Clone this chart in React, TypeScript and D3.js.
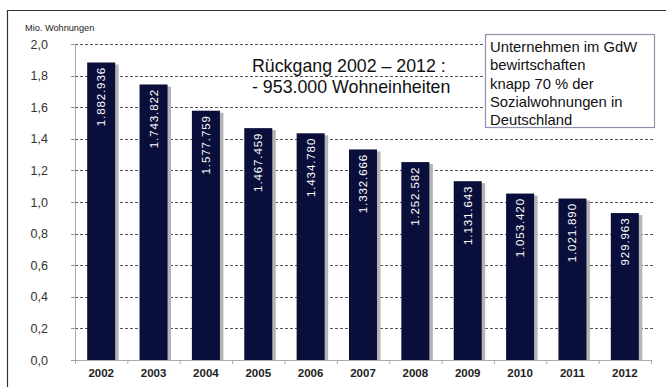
import React from "react";
import * as d3 from "d3";

const years = ["2002","2003","2004","2005","2006","2007","2008","2009","2010","2011","2012"];
const values = [1.882936,1.743822,1.577759,1.467459,1.434780,1.332666,1.252582,1.131643,1.053420,1.021890,0.929963];
const valueLabels = ["1.882.936","1.743.822","1.577.759","1.467.459","1.434.780","1.332.666","1.252.582","1.131.643","1.053.420","1.021.890","929.963"];
const yTicks = [0,0.2,0.4,0.6,0.8,1.0,1.2,1.4,1.6,1.8,2.0];
const noteLines = ["Unternehmen im GdW","bewirtschaften","knapp 70 % der","Sozialwohnungen in","Deutschland"];
const headline = ["Rückgang 2002 – 2012 :","- 953.000 Wohneinheiten"];

export default function App() {
  const W = 666, H = 387;
  const x0 = 75, x1 = 651, yTop = 44, yBot = 360;
  const x = d3.scaleBand<string>().domain(years).range([x0, x1]).paddingInner(0.465).paddingOuter(0.2325);
  const y = d3.scaleLinear().domain([0, 2]).range([yBot, yTop]);
  const step = x.step();
  const font = "Arial, 'Liberation Sans', sans-serif";
  return (
    <svg width={W} height={H} style={{ position: "absolute", left: 0, top: 0 }} fontFamily={font}>
      <rect x={0} y={0} width={W} height={H} fill="#fff" />
      <line x1={7.5} y1={10} x2={7.5} y2={H} stroke="#333" strokeWidth={1.2} />
      <line x1={7} y1={10.5} x2={W} y2={10.5} stroke="#333" strokeWidth={1.2} />
      <text x={25} y={31} fontSize={9.2} fill="#222">Mio. Wohnungen</text>
      {yTicks.map((t) => (
        <g key={t}>
          {t > 0 && (
            <line x1={x0} x2={655} y1={Math.round(y(t)) + 0.5} y2={Math.round(y(t)) + 0.5} stroke="#555" strokeDasharray="3,2" strokeWidth={1} />
          )}
          <line x1={x0 - 4} x2={x0} y1={Math.round(y(t)) + 0.5} y2={Math.round(y(t)) + 0.5} stroke="#999" />
          <text x={48} y={y(t) + 4.5} fontSize={12.5} textAnchor="end" fill="#333">{d3.format(".1f")(t).replace(".", ",")}</text>
        </g>
      ))}
      <line x1={x0 + 0.5} x2={x0 + 0.5} y1={yTop} y2={yBot} stroke="#aaa" />
      {years.map((yr, i) => {
        const bx = x(yr)!;
        const bw = x.bandwidth();
        const by = y(values[i]);
        return (
          <g key={yr}>
            <rect x={bx + 2} y={by + 2} width={bw + 1.5} height={yBot - by - 2} fill="#b5b5b5" />
            <rect x={bx} y={by} width={bw} height={yBot - by} fill="#0a0e3a" />
            <text transform={`translate(${bx + bw / 2 + 4},${by + 4.5}) rotate(-90)`} textAnchor="end" fontSize={11.5} letterSpacing={0.9} fill="#fff">{valueLabels[i]}</text>
            <text x={bx + bw / 2} y={377} textAnchor="middle" fontSize={11.5} fontWeight="bold" fill="#222">{yr}</text>
          </g>
        );
      })}
      <line x1={x0} x2={x1} y1={yBot + 0.5} y2={yBot + 0.5} stroke="#aaa" />
      {d3.range(years.length + 1).map((i) => (
        <line key={i} x1={x0 + i * step + 0.5} x2={x0 + i * step + 0.5} y1={yBot} y2={yBot + 4} stroke="#aaa" />
      ))}
      {headline.map((l, i) => (
        <text key={i} x={252} y={72 + i * 21} fontSize={17.8} fill="#111">{l}</text>
      ))}
      <rect x={485.5} y={34.5} width={169} height={93} fill="#fff" stroke="#8a93b0" strokeWidth={1.2} />
      {noteLines.map((l, i) => (
        <text key={i} x={490} y={52 + i * 18.3} fontSize={14.8} fill="#111">{l}</text>
      ))}
    </svg>
  );
}
